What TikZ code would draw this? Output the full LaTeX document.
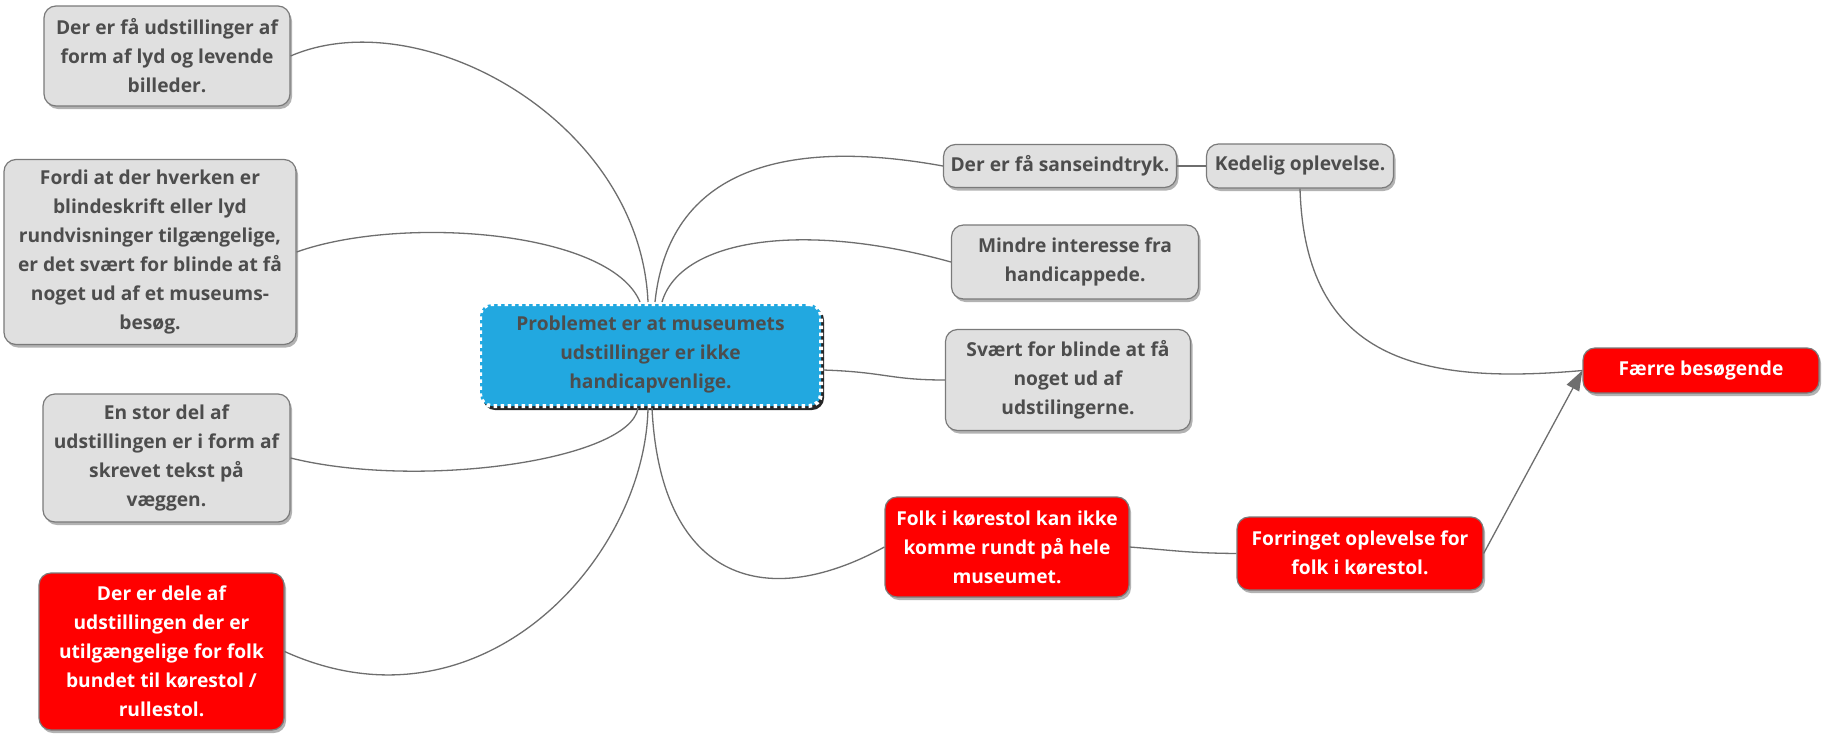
\documentclass[tikz,border=0pt]{standalone}
\usepackage{fontspec}
\setmainfont{Open Sans}
\usetikzlibrary{arrows.meta,shadows}
\definecolor{boxgray}{HTML}{E0E0E0}
\definecolor{boxline}{HTML}{7A7A7A}
\definecolor{txtgray}{HTML}{4D4D4D}
\definecolor{corefill}{HTML}{22A8E0}
\definecolor{linkgray}{HTML}{6E6E6E}
\definecolor{alertred}{HTML}{FF0000}

\begin{document}
\begin{tikzpicture}[x=1pt,y=1pt,yscale=-1,
    every node/.style={font=\fontsize{19.2}{29}\selectfont\bfseries, align=center, inner sep=3pt},
    gbox/.style 2 args={draw=boxline, line width=1.2pt, fill=boxgray, text=txtgray, rounded corners=12pt,
      minimum width=#1, minimum height=#2,
      drop shadow={shadow xshift=2pt, shadow yshift=-3pt, fill=black, opacity=0.3}},
    rbox/.style 2 args={gbox={#1}{#2}, fill=alertred, text=white},
    corebox/.style={draw=white, line width=4pt, dash pattern=on 3.5pt off 3.5pt, fill=corefill, text=txtgray,
      rounded corners=12pt, minimum width=341, minimum height=102,
      drop shadow={shadow xshift=3pt, shadow yshift=-4pt, fill=black, opacity=0.85}},
    link/.style={draw=linkgray, line width=1.3pt}]
    \fill[white] (0,0) rectangle (1831,742);
    \useasboundingbox (0,0) rectangle (1831,742);

    % left side
    \node [gbox={246}{100}] (few) at (167,56) {Der er få udstillinger af\\form af lyd og levende\\billeder.};
    \node [gbox={292}{185}] (braille) at (150,252) {Fordi at der hverken er\\blindeskrift eller lyd\\rundvisninger tilgængelige,\\er det svært for blinde at få\\noget ud af et museums-\\besøg.};
    \node [gbox={247}{128}] (written) at (166.5,458) {En stor del af\\udstillingen er i form af\\skrevet tekst på\\væggen.};
    \node [rbox={245}{157}] (access) at (161.5,651.5) {Der er dele af\\udstillingen der er\\utilgængelige for folk\\bundet til kørestol /\\rullestol.};

    % centre
    \node [corebox] (core) at (650.5,355) {Problemet er at museumets\\udstillinger er ikke\\handicapvenlige.};

    % right side
    \node [gbox={233}{43}] (senses) at (1060,166) {Der er få sanseindtryk.};
    \node [gbox={187}{44}] (boring) at (1300,166) {Kedelig oplevelse.};
    \node [gbox={247}{74}] (interest) at (1075,262) {Mindre interesse fra\\handicappede.};
    \node [gbox={245}{101}] (blind) at (1068,380) {Svært for blinde at få\\noget ud af\\udstilingerne.};
    \node [rbox={244}{100}] (wheel) at (1007,547) {Folk i kørestol kan ikke\\komme rundt på hele\\museumet.};
    \node [rbox={246}{73}] (worse) at (1360,553.5) {Forringet oplevelse for\\folk i kørestol.};
    \node [rbox={236}{45}] (fewer) at (1701,370.5) {Færre besøgende};

    % connectors
    \draw [link] (few.east) .. controls (420,0) and (640,120) .. ([xshift=-2.5pt]core.north);
    \draw [link] (braille.east) .. controls (400,215) and (610,230) .. ([xshift=-10.5pt]core.north);
    \draw [link] (written.east) .. controls (420,490) and (630,460) .. ([xshift=-12.5pt]core.south);
    \draw [link] (access.east) .. controls (480,740) and (645,560) .. ([xshift=-2.5pt]core.south);
    \draw [link] ([xshift=4.5pt]core.north) .. controls (670,160) and (800,140) .. (senses.west);
    \draw [link] ([xshift=11.5pt]core.north) .. controls (680,240) and (800,220) .. (interest.west);
    \draw [link] ([yshift=15pt]core.east) .. controls (885,372) and (890,380) .. (blind.west);
    \draw [link] ([xshift=1.5pt]core.south) .. controls (660,575) and (760,615) .. (wheel.west);
    \draw [link] (senses.east) -- (boring.west);
    \draw [link] (boring.south) .. controls (1305,360) and (1420,385) .. (fewer.west);
    \draw [link] (wheel.east) .. controls (1180,551) and (1190,553) .. (worse.west);
    \draw [link, -{Triangle[length=20pt,width=14pt]}] (worse.east) -- (fewer.west);
\end{tikzpicture}
\end{document}
